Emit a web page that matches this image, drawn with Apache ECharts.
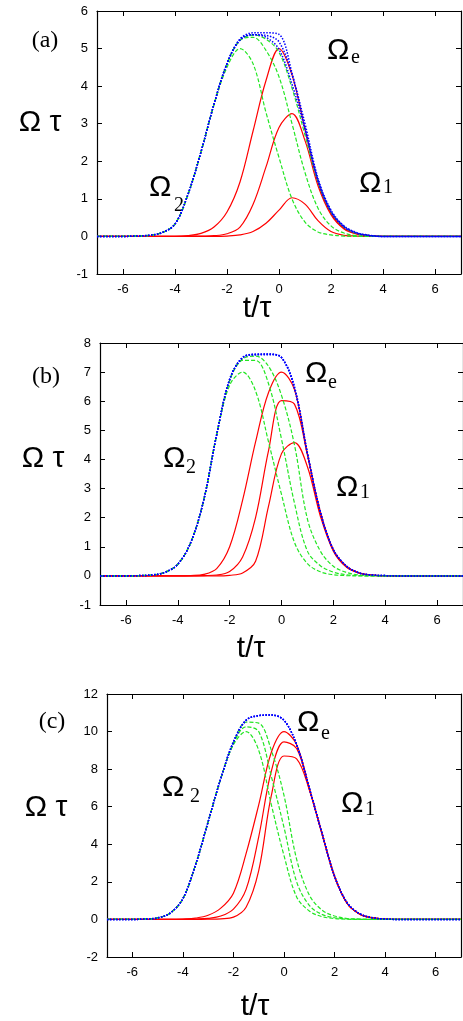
<!DOCTYPE html>
<html>
<head>
<meta charset="utf-8">
<script src="https://cdn.jsdelivr.net/npm/echarts@6/dist/echarts.min.js"></script>
<style>
  html, body { margin: 0; padding: 0; background: #fff; }
  #chart { width: 463px; height: 1021px; }
</style>
</head>
<body>
<div id="chart"></div>
<script>
// time axis, t/tau
const T = [-7, -6.5, -6, -5.5, -5, -4.5, -4, -3.5, -3, -2.5, -2, -1.5, -1, -0.5, 0,
    0.5, 1, 1.5, 2, 2.5, 3, 3.5, 4, 4.5, 5, 5.5, 6, 6.5, 7];
const xTicks = [-6, -4, -2, 0, 2, 4, 6];

// panel (a)
const om1A = [
    [0, 0, 0, 0, 0, 0, 0, 0.02, 0.08, 0.25, 0.65, 1.45, 2.8, 4.15, 5.0, 4.3, 2.85, 1.45, 0.62, 0.22, 0.07, 0.02, 0, 0, 0, 0, 0, 0, 0],
    [0, 0, 0, 0, 0, 0, 0, 0, 0.01, 0.02, 0.07, 0.25, 0.85, 1.85, 2.9, 3.27, 2.55, 1.35, 0.58, 0.2, 0.06, 0.02, 0, 0, 0, 0, 0, 0, 0],
    [0, 0, 0, 0, 0, 0, 0, 0, 0, 0, 0.01, 0.04, 0.13, 0.35, 0.7, 1.03, 0.86, 0.42, 0.13, 0.03, 0.01, 0, 0, 0, 0, 0, 0, 0, 0]
];
const om2A = [
    [0, 0, 0, 0.01, 0.03, 0.1, 0.33, 1.12, 2.25, 3.5, 4.5, 5.0, 4.6, 3.3, 2.1, 1.0, 0.38, 0.12, 0.04, 0.01, 0, 0, 0, 0, 0, 0, 0, 0, 0],
    [0, 0, 0, 0.01, 0.03, 0.1, 0.33, 1.12, 2.25, 3.52, 4.6, 5.22, 5.3, 4.95, 4.25, 3.0, 1.7, 0.75, 0.28, 0.09, 0.02, 0, 0, 0, 0, 0, 0, 0, 0],
    [0, 0, 0, 0.01, 0.03, 0.1, 0.33, 1.12, 2.25, 3.52, 4.6, 5.22, 5.36, 5.25, 4.9, 3.95, 2.7, 1.45, 0.65, 0.25, 0.08, 0.02, 0, 0, 0, 0, 0, 0, 0]
];
const omEA = [
    [0, 0, 0, 0.01, 0.03, 0.1, 0.33, 1.12, 2.25, 3.52, 4.6, 5.25, 5.42, 5.42, 5.38, 4.35, 2.88, 1.47, 0.65, 0.25, 0.08, 0.02, 0, 0, 0, 0, 0, 0, 0],
    [0, 0, 0, 0.01, 0.03, 0.1, 0.33, 1.12, 2.25, 3.52, 4.6, 5.25, 5.37, 5.35, 5.18, 4.3, 3.0, 1.55, 0.7, 0.28, 0.1, 0.03, 0, 0, 0, 0, 0, 0, 0],
    [0, 0, 0, 0.01, 0.03, 0.1, 0.33, 1.12, 2.25, 3.52, 4.6, 5.22, 5.37, 5.3, 4.98, 4.05, 2.85, 1.5, 0.67, 0.26, 0.09, 0.02, 0, 0, 0, 0, 0, 0, 0]
];

// panel (b)
const om1B = [
    [0, 0, 0, 0, 0, 0, 0, 0.01, 0.05, 0.25, 1.0, 2.6, 4.6, 6.3, 7.0, 6.4, 4.2, 2.2, 0.9, 0.33, 0.1, 0.03, 0.01, 0, 0, 0, 0, 0, 0],
    [0, 0, 0, 0, 0, 0, 0, 0, 0.01, 0.03, 0.15, 0.65, 2.0, 4.3, 6.02, 5.9, 4.15, 2.15, 0.88, 0.32, 0.1, 0.03, 0, 0, 0, 0, 0, 0, 0],
    [0, 0, 0, 0, 0, 0, 0, 0, 0, 0, 0.02, 0.1, 0.5, 2.4, 4.2, 4.58, 3.75, 2.05, 0.85, 0.3, 0.09, 0.02, 0, 0, 0, 0, 0, 0, 0]
];
const om2B = [
    [0, 0, 0, 0.01, 0.03, 0.12, 0.4, 1.15, 2.6, 4.85, 6.55, 7.0, 6.35, 4.6, 2.8, 1.15, 0.42, 0.14, 0.04, 0.01, 0, 0, 0, 0, 0, 0, 0, 0, 0],
    [0, 0, 0, 0.01, 0.03, 0.12, 0.4, 1.15, 2.6, 4.85, 6.7, 7.4, 7.4, 6.6, 4.7, 2.5, 0.85, 0.35, 0.13, 0.04, 0.01, 0, 0, 0, 0, 0, 0, 0, 0],
    [0, 0, 0, 0.01, 0.03, 0.12, 0.4, 1.15, 2.6, 4.85, 6.72, 7.45, 7.55, 7.2, 6.2, 4.5, 1.95, 0.85, 0.33, 0.12, 0.03, 0.01, 0, 0, 0, 0, 0, 0, 0]
];
const omEB = [
    [0, 0, 0, 0.01, 0.03, 0.12, 0.4, 1.15, 2.6, 4.85, 6.75, 7.5, 7.62, 7.62, 7.5, 6.5, 4.22, 2.2, 0.9, 0.34, 0.1, 0.03, 0.01, 0, 0, 0, 0, 0, 0],
    [0, 0, 0, 0.01, 0.03, 0.12, 0.4, 1.15, 2.6, 4.85, 6.75, 7.5, 7.6, 7.62, 7.5, 6.45, 4.2, 2.18, 0.9, 0.34, 0.1, 0.03, 0.01, 0, 0, 0, 0, 0, 0],
    [0, 0, 0, 0.01, 0.03, 0.12, 0.4, 1.15, 2.6, 4.85, 6.75, 7.5, 7.6, 7.6, 7.5, 6.45, 4.2, 2.18, 0.9, 0.34, 0.1, 0.03, 0.01, 0, 0, 0, 0, 0, 0]
];

// panel (c)
const om1C = [
    [0, 0, 0, 0, 0, 0, 0.02, 0.07, 0.22, 0.6, 1.4, 3.5, 6.1, 8.9, 10.0, 9.3, 7.0, 4.6, 2.3, 0.85, 0.28, 0.08, 0.02, 0, 0, 0, 0, 0, 0],
    [0, 0, 0, 0, 0, 0, 0, 0.02, 0.06, 0.18, 0.55, 1.6, 4.4, 7.9, 9.45, 9.1, 6.95, 4.6, 2.3, 0.85, 0.28, 0.08, 0.02, 0, 0, 0, 0, 0, 0],
    [0, 0, 0, 0, 0, 0, 0, 0, 0.01, 0.03, 0.12, 0.65, 2.6, 6.6, 8.7, 8.55, 6.9, 4.55, 2.28, 0.85, 0.28, 0.08, 0.02, 0, 0, 0, 0, 0, 0]
];
const om2C = [
    [0, 0, 0, 0.02, 0.08, 0.34, 1.1, 2.9, 5.2, 7.5, 9.3, 10.0, 9.0, 6.1, 3.4, 1.2, 0.45, 0.15, 0.05, 0.01, 0, 0, 0, 0, 0, 0, 0, 0, 0],
    [0, 0, 0, 0.02, 0.08, 0.34, 1.1, 2.9, 5.2, 7.5, 9.35, 10.25, 10.0, 7.6, 4.9, 2.0, 0.75, 0.27, 0.09, 0.03, 0.01, 0, 0, 0, 0, 0, 0, 0, 0],
    [0, 0, 0, 0.02, 0.08, 0.34, 1.1, 2.9, 5.2, 7.5, 9.4, 10.5, 10.45, 9.0, 6.6, 3.2, 1.3, 0.5, 0.18, 0.05, 0.02, 0, 0, 0, 0, 0, 0, 0, 0]
];
const omEC = [
    [0, 0, 0, 0.02, 0.08, 0.34, 1.1, 2.9, 5.2, 7.5, 9.45, 10.6, 10.85, 10.88, 10.6, 9.3, 7.0, 4.6, 2.3, 0.88, 0.3, 0.09, 0.02, 0, 0, 0, 0, 0, 0],
    [0, 0, 0, 0.02, 0.08, 0.34, 1.1, 2.9, 5.2, 7.5, 9.45, 10.6, 10.85, 10.88, 10.6, 9.3, 7.0, 4.6, 2.3, 0.88, 0.3, 0.09, 0.02, 0, 0, 0, 0, 0, 0],
    [0, 0, 0, 0.02, 0.08, 0.34, 1.1, 2.9, 5.2, 7.5, 9.45, 10.6, 10.85, 10.88, 10.6, 9.3, 7.0, 4.6, 2.3, 0.88, 0.3, 0.09, 0.02, 0, 0, 0, 0, 0, 0]
];

const chart = echarts.init(document.getElementById('chart'));

const panels = [
    { grid: { left: 97, top: 11, width: 364, height: 263 }, yMin: -1, yMax: 6, yStep: 1, om1: om1A, om2: om2A, omE: omEA },
    { grid: { left: 100, top: 343, width: 364, height: 262 }, yMin: -1, yMax: 8, yStep: 1, om1: om1B, om2: om2B, omE: omEB },
    { grid: { left: 107, top: 694, width: 354, height: 263 }, yMin: -2, yMax: 12, yStep: 2, om1: om1C, om2: om2C, omE: omEC }
];

const tickFont = { fontFamily: 'Liberation Sans', fontSize: 13, color: '#000' };
const frameLine = { show: true, onZero: false, lineStyle: { color: '#000', width: 1.2 } };
const inTick = { show: true, inside: true, length: 5, lineStyle: { color: '#000', width: 1 } };

const grids = [], xAxes = [], yAxes = [], series = [];

panels.forEach((p, k) => {
    grids.push(p.grid);
    // bottom / top
    xAxes.push({
        gridIndex: k, type: 'value', min: -7, max: 7, position: 'bottom',
        axisLine: frameLine, splitLine: { show: false },
        axisTick: Object.assign({}, inTick, { customValues: xTicks }),
        axisLabel: Object.assign({}, tickFont, { margin: 9, customValues: xTicks })
    });
    xAxes.push({
        gridIndex: k, type: 'value', min: -7, max: 7, position: 'top',
        axisLine: frameLine, splitLine: { show: false },
        axisTick: Object.assign({}, inTick, { customValues: xTicks }),
        axisLabel: { show: false }
    });
    // left / right
    yAxes.push({
        gridIndex: k, type: 'value', min: p.yMin, max: p.yMax, interval: p.yStep, position: 'left',
        axisLine: frameLine, splitLine: { show: false }, axisTick: inTick,
        axisLabel: Object.assign({}, tickFont, { margin: 9 })
    });
    yAxes.push({
        gridIndex: k, type: 'value', min: p.yMin, max: p.yMax, interval: p.yStep, position: 'right',
        axisLine: frameLine, splitLine: { show: false }, axisTick: inTick,
        axisLabel: { show: false }
    });

    const add = (arr, color, type, width) => {
        series.push({
            type: 'line',
            xAxisIndex: 2 * k,
            yAxisIndex: 2 * k,
            data: T.map((t, i) => [t, arr[i]]),
            showSymbol: false,
            smooth: 0.35,
            lineStyle: { color: color, width: width, type: type },
            silent: true,
            animation: false
        });
    };
    p.om1.forEach(a => add(a, '#ff0000', 'solid', 1.2));
    p.om2.forEach(a => add(a, '#22e622', [4, 2], 1.2));
    p.omE.forEach(a => add(a, '#0000ff', [1.5, 1.5], 1.5));
});

// text labels
const graphics = [];
const txt = (s, x, y, font, align) => graphics.push({
    type: 'text', x: x, y: y,
    style: { text: s, font: font, fill: '#000', textAlign: align || 'left', textVerticalAlign: 'middle' }
});
const omegaFont = '30px "Liberation Sans"';
const subFont = '20px "Liberation Serif"';
const omega = (x, y, sub, sx, sy) => {
    txt('Ω', x, y, omegaFont);
    txt(sub, sx, sy, subFont);
};

// (a)
txt('(a)', 45, 41, '24px "Liberation Serif"', 'center');
txt('Ω τ', 40, 123, '30px "Liberation Sans"', 'center');
txt('t/τ', 257, 309, '30px "Liberation Sans"', 'center');
omega(327, 51, 'e', 351, 58);
omega(359, 184, '1', 383, 188);
omega(149, 188, '2', 174, 206);
// (b)
txt('(b)', 46, 377, '24px "Liberation Serif"', 'center');
txt('Ω τ', 43, 459, '30px "Liberation Sans"', 'center');
txt('t/τ', 251, 649, '30px "Liberation Sans"', 'center');
omega(305, 374, 'e', 328, 383);
omega(336, 488, '1', 360, 493);
omega(163, 459, '2', 186, 468);
// (c)
txt('(c)', 52, 722, '24px "Liberation Serif"', 'center');
txt('Ω τ', 46, 808, '30px "Liberation Sans"', 'center');
txt('t/τ', 255, 1007, '30px "Liberation Sans"', 'center');
omega(297, 723, 'e', 321, 734);
omega(341, 804, '1', 365, 810);
omega(162, 788, '2', 190, 797);

chart.setOption({
    animation: false,
    backgroundColor: '#fff',
    grid: grids,
    xAxis: xAxes,
    yAxis: yAxes,
    series: series,
    graphic: graphics
});
</script>
</body>
</html>
